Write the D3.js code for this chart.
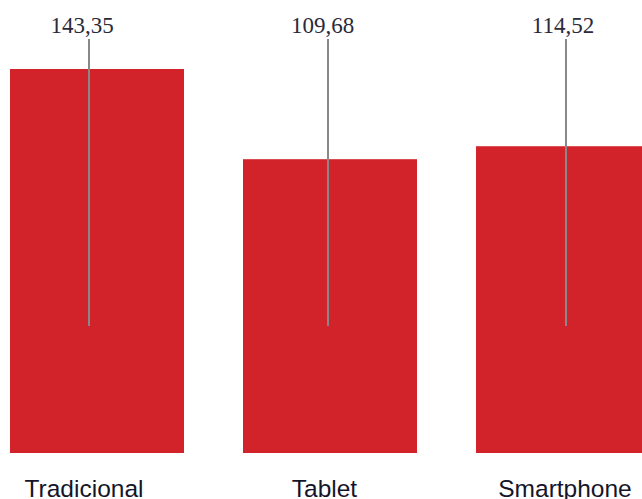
<!DOCTYPE html>
<html>
<head>
<meta charset="utf-8">
<script src="https://cdn.jsdelivr.net/npm/d3@7"></script>
<style>
  html, body { margin: 0; padding: 0; background: #fff; overflow: hidden; }
</style>
</head>
<body>
<div id="viz-container"></div>
<script>
// dados
const categories = ['Tradicional', 'Tablet', 'Smartphone'];
const values = [143.35, 109.68, 114.52];
const valueLabels = ['143,35', '109,68', '114,52'];

const width = 642;
const height = 499;

const svg = d3.select('#viz-container')
  .append('svg')
  .attr('width', width)
  .attr('height', height);

// escalas
const x = d3.scaleBand()
  .domain(categories)
  .range([10, 650])
  .paddingInner(0.2532)
  .paddingOuter(0);

// rótulos e linhas ficam um pouco deslocados das barras no original
const xText = d3.scalePoint().domain(categories).range([82, 563]);
const xLine = d3.scalePoint().domain(categories).range([89, 566]);

const y = d3.scaleLinear()
  .domain([0, 143.35])
  .range([453, 69]);

const data = categories.map((c, i) => ({ cat: c, value: values[i], label: valueLabels[i] }));

// barras
svg.selectAll('.bar')
  .data(data).enter()
  .append('rect')
  .attr('class', 'bar')
  .attr('x', d => x(d.cat))
  .attr('y', d => y(d.value))
  .attr('width', x.bandwidth())
  .attr('height', d => y(0) - y(d.value))
  .style('fill', '#d2232b');

// linhas cinza
svg.selectAll('.lead')
  .data(data).enter()
  .append('line')
  .attr('class', 'lead')
  .attr('x1', d => Math.round(xLine(d.cat)))
  .attr('x2', d => Math.round(xLine(d.cat)))
  .attr('y1', 39)
  .attr('y2', 326)
  .style('stroke', '#888')
  .style('stroke-width', '2px');

// valores
svg.selectAll('.val')
  .data(data).enter()
  .append('text')
  .attr('class', 'val')
  .attr('x', d => xText(d.cat))
  .attr('y', 33)
  .attr('text-anchor', 'middle')
  .style('font-family', '"Liberation Serif", "Times New Roman", serif')
  .style('font-size', '23px')
  .style('fill', '#2a2a3a')
  .text(d => d.label);

// categorias
svg.selectAll('.cat')
  .data(data).enter()
  .append('text')
  .attr('class', 'cat')
  .attr('x', d => xText(d.cat) + 2)
  .attr('y', 497)
  .attr('text-anchor', 'middle')
  .style('font-family', '"Liberation Sans", Arial, sans-serif')
  .style('font-size', '24.5px')
  .style('fill', '#15152a')
  .text(d => d.cat);
</script>
</body>
</html>
